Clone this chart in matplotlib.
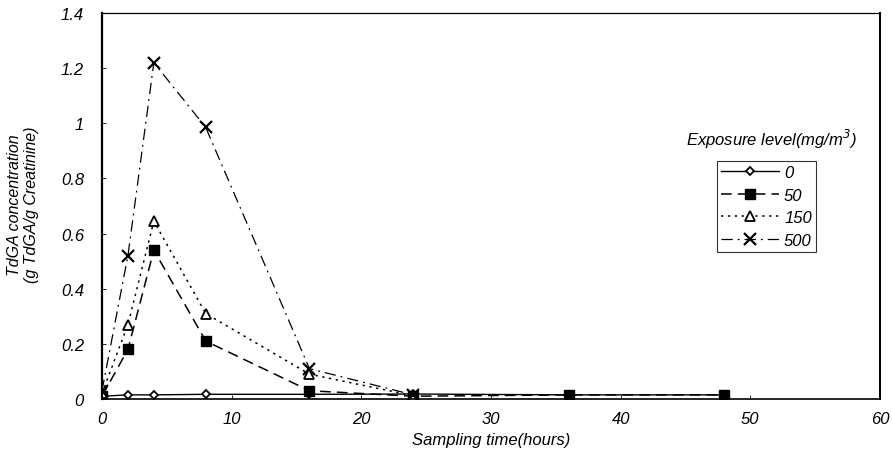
import matplotlib
matplotlib.use("Agg")
import matplotlib.pyplot as plt

plt.rcParams['font.family'] = ['Liberation Sans', 'DejaVu Sans']
plt.rcParams['font.style'] = 'italic'

# sampling times (hours)
hours = [0, 2, 4, 8, 16, 24, 36, 48]
hours_short = [0, 2, 4, 8, 16, 24]

# TdGA concentration per exposure level
conc_0 = [0.01, 0.015, 0.015, 0.017, 0.017, 0.018, 0.015, 0.015]
conc_50 = [0.01, 0.18, 0.54, 0.21, 0.03, 0.01, 0.015, 0.015]
conc_150 = [0.02, 0.27, 0.645, 0.31, 0.09, 0.012]
conc_500 = [0.03, 0.52, 1.22, 0.985, 0.11, 0.015]

labels = ['0', '50', '150', '500']

fig = plt.figure(figsize=(8.92, 4.6), dpi=100)
ax = fig.add_axes([102 / 892, 60 / 460, 778 / 892, 386 / 460])

ax.plot(hours, conc_0, color='black', lw=1.0, ls='-', marker='D', ms=4.5,
        mfc='white', mec='black', mew=1.3, label=labels[0])
ax.plot(hours, conc_50, color='black', lw=1.1, ls=(0, (7, 4)), marker='s', ms=7,
        mfc='black', mec='black', label=labels[1])
ax.plot(hours_short, conc_150, color='black', lw=1.1, ls=(0, (1.5, 3)), marker='^', ms=7,
        mfc='white', mec='black', mew=1.3, label=labels[2])
ax.plot(hours_short, conc_500, color='black', lw=0.9, ls=(0, (9, 4, 1.5, 4)), marker='x', ms=8,
        mec='black', mew=1.6, label=labels[3])

ax.set_xlim(0, 60)
ax.set_ylim(0, 1.4)
ax.set_xticks([0, 10, 20, 30, 40, 50, 60])
ax.set_yticks([0, 0.2, 0.4, 0.6, 0.8, 1.0, 1.2, 1.4])
ax.set_yticklabels(['0', '0.2', '0.4', '0.6', '0.8', '1', '1.2', '1.4'])
ax.tick_params(direction='in', length=3, width=0.6, labelsize=12)
ax.tick_params(axis='y', pad=13)
ax.tick_params(axis='x', pad=9)

for s in ax.spines.values():
    s.set_color('black')
ax.spines['left'].set_linewidth(1.6)
ax.spines['bottom'].set_linewidth(1.2)
ax.spines['top'].set_linewidth(0.9)
ax.spines['right'].set_linewidth(1.4)

ax.set_xlabel('Sampling time(hours)', fontsize=12, labelpad=4)
fig.text(23 / 892, 1 - 205 / 460, 'TdGA concentration\n(g TdGA/g Creatinine)',
         rotation=90, ha='center', va='center', multialignment='center',
         fontsize=11.5, linespacing=1.1)

leg = ax.legend(loc='upper left', bbox_to_anchor=(0.790, 0.617), fontsize=12,
                frameon=True, fancybox=False, edgecolor='black', handlelength=3.5,
                borderpad=0.25, labelspacing=0.45, handletextpad=0.3,
                borderaxespad=0)
leg.get_frame().set_linewidth(0.8)

ax.text(0.861, 0.674, 'Exposure level(mg/m$^{3}$)', transform=ax.transAxes,
        ha='center', va='center', fontsize=12, style='italic')

fig.savefig('out.png', dpi=100)
